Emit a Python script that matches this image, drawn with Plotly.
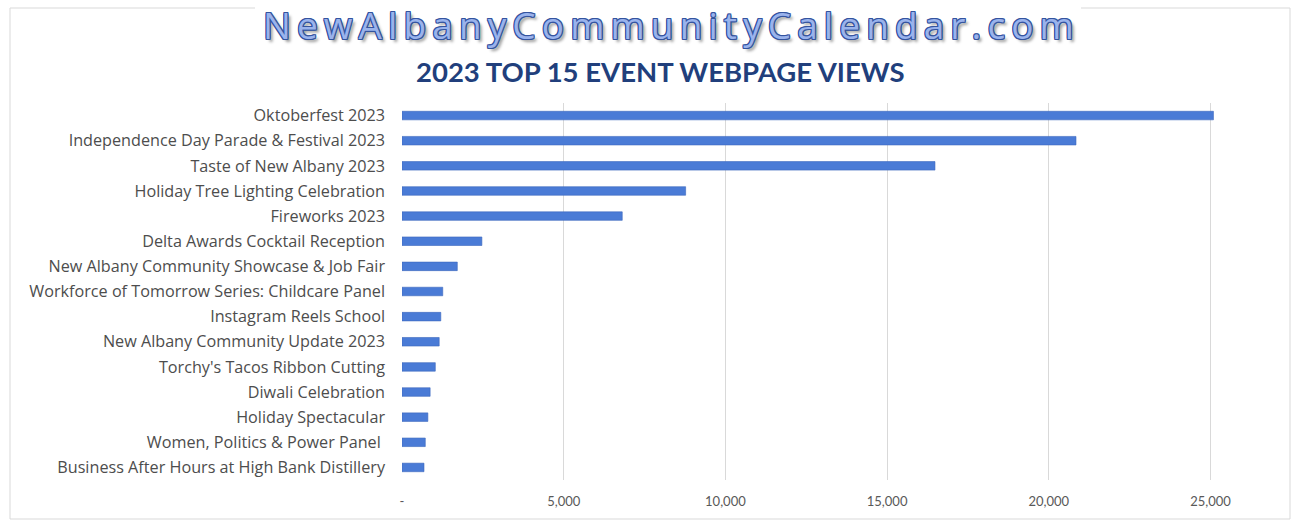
import plotly.graph_objects as go

events = [
    "Oktoberfest 2023",
    "Independence Day Parade & Festival 2023",
    "Taste of New Albany 2023",
    "Holiday Tree Lighting Celebration",
    "Fireworks 2023",
    "Delta Awards Cocktail Reception",
    "New Albany Community Showcase & Job Fair",
    "Workforce of Tomorrow Series: Childcare Panel",
    "Instagram Reels School",
    "New Albany Community Update 2023",
    "Torchy's Tacos Ribbon Cutting",
    "Diwali Celebration",
    "Holiday Spectacular",
    "Women, Politics & Power Panel ",
    "Business After Hours at High Bank Distillery",
]
views = [25090, 20840, 16480, 8770, 6810, 2470, 1710, 1260, 1200, 1150, 1030, 870, 800, 720, 680]

tick_vals = [0, 5000, 10000, 15000, 20000, 25000]
tick_text = ["-", "5,000", "10,000", "15,000", "20,000", "25,000"]

W, H = 1295, 521
L, R, T, B = 402, 1282, 103, 480

def px_x(px):
    return (px - L) / (R - L)

def px_y(py):
    return (B - py) / (B - T)

fig = go.Figure(go.Bar(
    x=views, y=events, orientation="h",
    marker=dict(color="#4a7bd6", line=dict(color="#3d68bd", width=0.6)),
    width=0.34,
))

outline = "#34549f"
shadow = (f"1px 0 0 {outline}, -1px 0 0 {outline}, 0 1px 0 {outline}, 0 -1px 0 {outline}, "
          f"1px 1px 0 {outline}, -1px -1px 0 {outline}, 1px -1px 0 {outline}, -1px 1px 0 {outline}, "
          "3px 3px 3px #9a9a9a")

border = dict(color="#d9d9d9", width=1)
bx0, bx1, by0, by1 = px_x(10), px_x(1290), px_y(519), px_y(8)
segments = [
    (bx0, by1, bx0, by0),          # left
    (bx0, by0, bx1, by0),          # bottom
    (bx1, by0, bx1, by1),          # right
    (bx0, by1, px_x(255), by1),    # top-left, up to title
    (px_x(1081), by1, bx1, by1),   # top-right, after title
]
shapes = [dict(type="line", xref="paper", yref="paper", x0=a, y0=b, x1=c, y1=d,
               line=border, layer="below") for a, b, c, d in segments]

fig.update_layout(
    width=W, height=H,
    margin=dict(l=L, r=W - R, t=T, b=H - B),
    paper_bgcolor="white", plot_bgcolor="white",
    showlegend=False,
    xaxis=dict(
        range=[0, 27210], tickvals=tick_vals, ticktext=tick_text,
        showgrid=True, gridcolor="#d9d9d9", gridwidth=1,
        zeroline=False, showline=False,
        tickfont=dict(family="Lato", size=13, color="#595959"),
        ticks="", ticklabelstandoff=12,
    ),
    yaxis=dict(
        autorange="reversed", showgrid=False, zeroline=False, showline=False,
        tickfont=dict(family="Open Sans", size=16.2, color="#4d4d4d"),
        ticks="", ticklabelstandoff=16,
    ),
    shapes=shapes,
    annotations=[
        dict(text='<span style="letter-spacing:6.1px">NewAlbanyCommunityCalendar.com</span>',
             xref="paper", yref="paper",
             x=px_x(671), y=px_y(24), xanchor="center", yanchor="middle",
             showarrow=False,
             font=dict(family="Open Sans", size=37, color="#9ab3ec", shadow=shadow)),
        dict(text="<b>2023 TOP 15 EVENT WEBPAGE VIEWS</b>", xref="paper", yref="paper",
             x=px_x(660), y=px_y(72), xanchor="center", yanchor="middle",
             showarrow=False,
             font=dict(family="Lato", size=27.5, color="#213f7c")),
    ],
)

fig.write_html("out.html")
